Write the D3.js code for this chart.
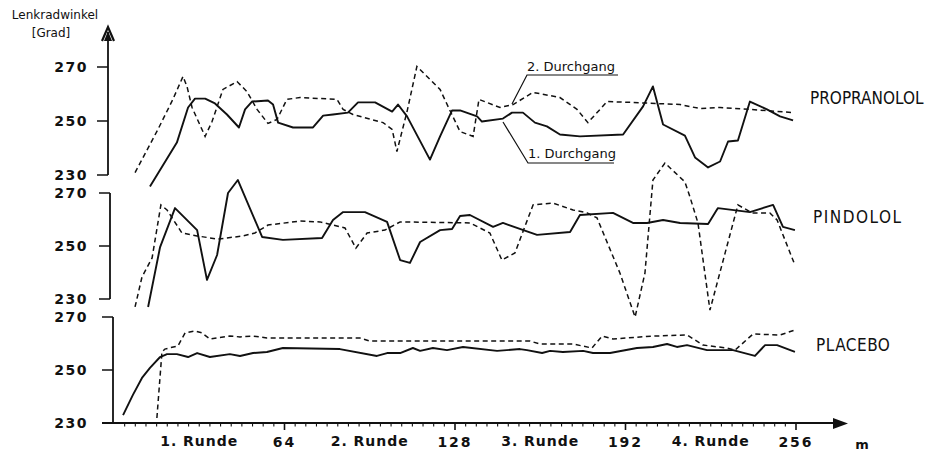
<!DOCTYPE html>
<html><head><meta charset="utf-8">
<script src="https://cdn.jsdelivr.net/npm/d3@7"></script>
<style>
body{margin:0;background:#fff;}
svg{display:block;}
text{fill:#111;}
</style>
</head><body>
<svg id="c" width="928" height="455"></svg>
<script>
// ---------- DATA ----------
const yTicks = [230, 250, 270];
const xMajorTicks = [64, 128, 192, 256];
const rundeLabels = ["1. Runde", "2. Runde", "3. Runde", "4. Runde"];
const rundeCenters = [32, 96, 160, 224];
const panelNames = ["PROPRANOLOL", "PINDOLOL", "PLACEBO"];

// [m, Lenkradwinkel in Grad]
const propranolol1 = [[13.5,225.7],[23.6,242.0],[27.8,255.0],[30.4,258.3],[34.2,258.3],[37.9,256.5],[42.4,252.4],[46.9,247.6],[49.2,254.3],[51.8,257.2],[57.8,257.6],[59.7,256.1],[61.6,249.4],[67.2,247.6],[74.7,247.6],[78.5,252.0],[82.2,252.4],[87.8,253.1],[91.6,256.9],[98.0,256.9],[104.4,253.5],[106.6,256.1],[110.0,251.7],[118.6,235.7],[122.4,244.3],[126.9,253.9],[129.9,253.9],[136.3,251.7],[138.1,249.8],[146.0,250.9],[149.4,253.1],[153.5,253.1],[158.0,249.4],[162.5,248.0],[167.4,245.0],[174.9,244.3],[191.1,245.0],[198.6,255.4],[202.3,262.8],[206.1,248.7],[214.3,244.6],[218.1,236.5],[223.0,232.8],[227.5,235.0],[230.5,242.4],[234.2,242.8],[238.7,257.2],[245.1,254.3],[250.0,251.7],[254.9,250.2]];
const propranolol2 = [[7.9,230.9],[16.5,246.9],[22.1,258.0],[25.9,266.5],[27.4,262.8],[29.3,255.0],[34.2,244.3],[36.8,249.8],[40.9,261.7],[46.2,264.6],[49.9,260.9],[53.7,254.3],[57.8,249.1],[61.2,250.6],[64.9,258.0],[69.8,258.7],[83.7,258.0],[86.0,254.3],[89.7,252.4],[101.0,249.4],[104.4,246.9],[106.2,238.7],[110.0,253.5],[113.7,270.2],[122.4,261.7],[126.1,253.9],[129.9,246.1],[134.8,244.3],[137.0,258.0],[144.9,255.0],[149.8,256.1],[157.3,260.6],[167.4,258.7],[173.8,254.3],[177.9,249.4],[185.1,257.2],[193.7,256.9],[212.5,256.1],[220.0,254.6],[227.5,255.0],[238.7,254.3],[254.9,253.1]];
const pindolol1 = [[12.8,227.0],[17.3,249.6],[22.9,264.3],[31.2,256.0],[34.9,237.2],[38.7,246.6],[42.8,270.0],[46.5,274.9],[55.6,253.4],[63.4,252.3],[78.1,253.0],[82.2,259.8],[86.0,262.8],[94.2,262.8],[102.5,259.1],[107.4,244.7],[111.1,243.6],[114.9,251.5],[122.4,256.0],[126.9,256.4],[129.9,261.3],[133.6,261.7],[142.3,257.2],[146.0,258.7],[158.8,254.2],[171.2,255.3],[174.9,261.7],[187.3,262.5],[194.8,258.7],[200.1,258.7],[206.1,259.8],[212.5,258.7],[223.0,258.3],[226.7,264.3],[238.7,262.8],[247.4,265.5],[251.1,257.2],[255.6,256.0]];
const pindolol2 = [[7.9,227.0],[10.5,238.3],[14.3,245.5],[17.6,265.5],[19.9,263.6],[25.5,254.9],[31.2,253.8],[39.0,252.6],[48.4,253.8],[52.9,254.9],[57.8,257.9],[69.8,259.4],[77.3,259.1],[86.7,256.8],[90.8,249.2],[95.0,254.9],[101.7,256.0],[107.4,259.1],[133.6,258.7],[141.1,254.9],[145.6,244.7],[150.5,247.4],[157.3,265.5],[164.8,266.2],[172.3,263.6],[177.6,262.5],[181.3,260.6],[189.9,239.8],[195.6,223.2],[199.3,239.8],[202.3,274.9],[206.8,281.3],[214.3,274.2],[216.2,268.5],[219.2,258.7],[223.7,225.8],[229.4,247.4],[234.2,265.5],[239.5,262.5],[246.2,262.5],[248.9,259.8],[255.6,242.8]];
const placebo1 = [[3.4,233.0],[7.1,240.6],[10.5,247.0],[13.5,250.8],[17.3,254.9],[19.9,256.0],[23.6,256.0],[27.8,254.9],[31.2,256.4],[36.0,254.9],[43.5,256.0],[47.3,255.3],[52.2,256.4],[57.4,256.8],[63.4,258.3],[84.8,257.9],[98.7,255.3],[102.5,256.4],[107.4,256.4],[112.2,258.3],[114.9,257.2],[119.7,258.3],[125.0,257.5],[131.0,258.7],[143.8,257.2],[152.4,257.9],[155.0,257.5],[160.7,256.4],[163.7,257.2],[168.5,256.8],[176.1,257.2],[179.8,256.4],[186.2,256.4],[196.3,258.3],[202.3,258.7],[207.6,259.8],[211.3,258.7],[215.1,259.4],[222.6,257.5],[232.4,257.5],[240.6,255.3],[244.4,259.4],[248.9,259.4],[255.6,256.8]];
const placebo2 = [[16.1,231.9],[18.0,256.8],[19.1,257.9],[24.0,259.1],[26.7,264.0],[30.4,264.7],[33.0,264.0],[36.0,261.7],[43.5,262.8],[47.3,262.5],[52.2,262.8],[57.4,262.1],[92.3,262.1],[96.1,260.9],[156.2,260.9],[159.9,259.8],[172.3,259.8],[179.4,258.3],[183.2,262.8],[187.3,261.7],[202.3,262.8],[215.1,263.2],[221.1,259.4],[230.1,258.3],[233.1,257.5],[239.9,263.6],[250.0,263.2],[255.6,265.1]];

// ---------- LAYOUT ----------
const svg = d3.select("#c");
const x = d3.scaleLinear().domain([0, 256]).range([114, 796]);
const panels = [
  {name: panelNames[0], s1: propranolol1, s2: propranolol2, y: d3.scaleLinear().domain([230,270]).range([175,67]), ax: 108, lx: 810, ly: 98, ls: 0},
  {name: panelNames[1], s1: pindolol1, s2: pindolol2, y: d3.scaleLinear().domain([230,270]).range([299,193]), ax: 110, lx: 813, ly: 217, ls: 1.5},
  {name: panelNames[2], s1: placebo1, s2: placebo2, y: d3.scaleLinear().domain([230,270]).range([423,317]), ax: 113, lx: 816, ly: 345, ls: 0.5}
];
const ink = "#111";
const tickFont = "'DejaVu Sans', sans-serif";

panels.forEach((p, i) => {
  const g = svg.append("g");
  const top = i === 0 ? 32 : p.y(270);
  g.append("line").attr("x1", p.ax).attr("x2", p.ax).attr("y1", top).attr("y2", p.y(230))
    .attr("stroke", ink).attr("stroke-width", 1.8);
  yTicks.forEach(t => {
    g.append("line").attr("x1", p.ax - 11).attr("x2", p.ax).attr("y1", p.y(t)).attr("y2", p.y(t))
      .attr("stroke", ink).attr("stroke-width", 1.5);
    g.append("text").attr("x", 88).attr("y", p.y(t)).attr("dy", "0.36em")
      .attr("text-anchor", "end").attr("font-family", tickFont).attr("font-weight", "bold")
      .attr("font-size", 14).attr("letter-spacing", 1.5).text(t);
  });
  const line = d3.line().x(d => x(d[0])).y(d => p.y(d[1]));
  g.append("path").datum(p.s1).attr("d", line).attr("fill", "none")
    .attr("stroke", ink).attr("stroke-width", 1.9).attr("stroke-linejoin", "round");
  g.append("path").datum(p.s2).attr("d", line).attr("fill", "none")
    .attr("stroke", ink).attr("stroke-width", 1.5).attr("stroke-dasharray", "5,3.5");
  g.append("text").attr("x", p.lx).attr("y", p.ly).attr("dy", "0.36em")
    .attr("font-family", "'DejaVu Sans Condensed', 'DejaVu Sans', sans-serif").attr("font-size", 17)
    .attr("letter-spacing", p.ls).text(p.name);
});

// open arrow on top y axis
svg.append("path").attr("d", "M102,41 L108,27 L114,41").attr("fill", "none").attr("stroke", ink).attr("stroke-width", 2.2).attr("stroke-linejoin", "miter");
svg.append("path").attr("d", "M104,41 L108,31 L112,41 Z").attr("fill", ink);

// Y title
svg.append("text").attr("x", 55).attr("y", 15).attr("dy", "0.36em").attr("text-anchor", "middle")
  .attr("font-family", tickFont).attr("font-size", 12).text("Lenkradwinkel");
svg.append("text").attr("x", 51).attr("y", 33).attr("dy", "0.36em").attr("text-anchor", "middle")
  .attr("font-family", tickFont).attr("font-size", 12).text("[Grad]");

// X axis
const xa = svg.append("g");
xa.append("line").attr("x1", 102).attr("x2", 838).attr("y1", 423).attr("y2", 423)
  .attr("stroke", ink).attr("stroke-width", 1.8);
xa.append("path").attr("d", "M833,418 L848,423.5 L833,429 Z").attr("fill", ink);
d3.range(4, 257, 4).forEach(m => {
  const major = xMajorTicks.includes(m);
  xa.append("line").attr("x1", x(m)).attr("x2", x(m)).attr("y1", 423).attr("y2", major ? 430 : 426.5)
    .attr("stroke", ink).attr("stroke-width", major ? 1.6 : 1.1);
});
xMajorTicks.forEach(m => {
  xa.append("text").attr("x", x(m)).attr("y", 447).attr("text-anchor", "middle")
    .attr("font-family", tickFont).attr("font-weight", "bold").attr("font-size", 14)
    .attr("letter-spacing", 2).text(m);
});
rundeLabels.forEach((l, i) => {
  xa.append("text").attr("x", x(rundeCenters[i])).attr("y", 446).attr("text-anchor", "middle")
    .attr("font-family", tickFont).attr("font-weight", "bold").attr("font-size", 14)
    .attr("letter-spacing", 1).text(l);
});
xa.append("text").attr("x", 862).attr("y", 449).attr("text-anchor", "middle")
  .attr("font-family", tickFont).attr("font-weight", "bold").attr("font-size", 13).text("m");

// annotations
const ann = svg.append("g");
ann.append("text").attr("x", 527).attr("y", 66).attr("dy", "0.36em")
  .attr("font-family", tickFont).attr("font-size", 13).text("2. Durchgang");
ann.append("path").attr("d", "M512,104 L527,75 L618,75").attr("fill", "none").attr("stroke", ink).attr("stroke-width", 1.2);
ann.append("text").attr("x", 528).attr("y", 153).attr("dy", "0.36em")
  .attr("font-family", tickFont).attr("font-size", 13).text("1. Durchgang");
ann.append("path").attr("d", "M503,122 L528,163 L614,163").attr("fill", "none").attr("stroke", ink).attr("stroke-width", 1.2);
</script>
</body></html>
